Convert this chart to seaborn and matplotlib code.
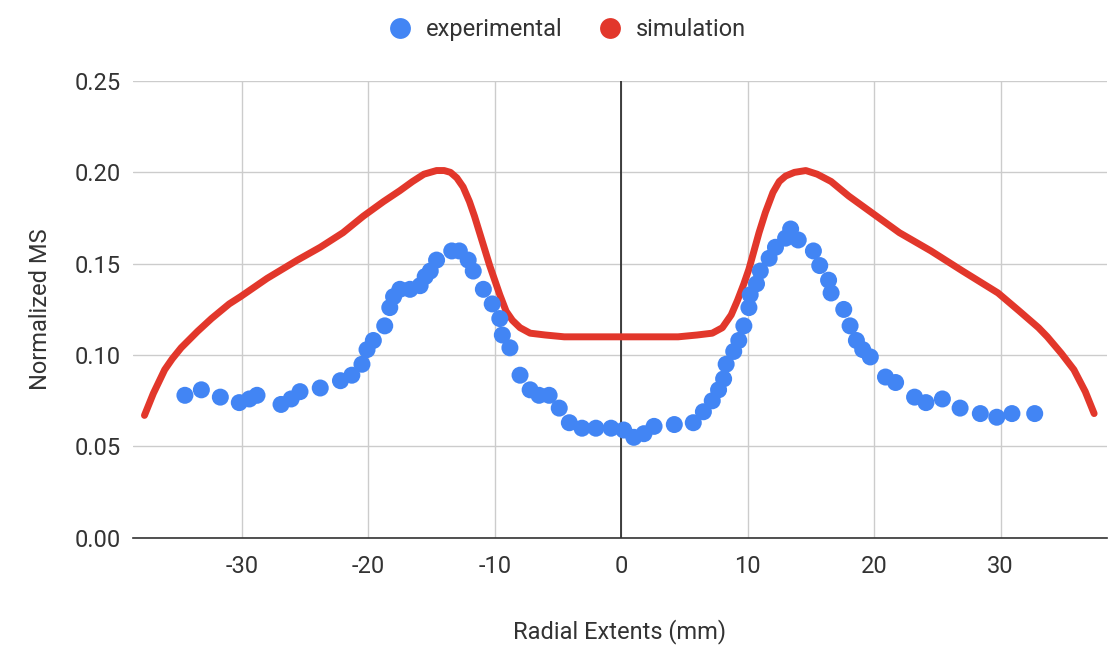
import matplotlib
matplotlib.use("Agg")
import matplotlib.pyplot as plt
import seaborn as sns
from matplotlib.lines import Line2D

# experimental points
exp_x = [-34.5, -33.2, -31.7, -30.2, -29.4, -28.8, -26.9, -26.1, -25.4, -23.8,
         -22.2, -21.3, -20.5, -20.1, -19.6, -18.7, -18.3, -18.0, -17.5, -16.7,
         -15.9, -15.5, -15.1, -14.6, -13.4, -12.8, -12.1, -11.7, -10.9, -10.2,
         -9.6, -9.4, -8.8, -8.0, -7.2, -6.5, -5.7, -4.9, -4.1, -3.1,
         -2.0, -0.8, 0.2, 1.0, 1.8, 2.6, 4.2, 5.7, 6.5, 7.2,
         7.7, 8.1, 8.3, 8.9, 9.3, 9.7, 10.1, 10.2, 10.7, 11.0,
         11.7, 12.2, 13.0, 13.4, 14.0, 15.2, 15.7, 16.4, 16.6, 17.6,
         18.1, 18.6, 19.1, 19.7, 20.9, 21.7, 23.2, 24.1, 25.4, 26.8,
         28.4, 29.7, 30.9, 32.7]
exp_y = [0.078, 0.081, 0.077, 0.074, 0.076, 0.078, 0.073, 0.076, 0.080, 0.082,
         0.086, 0.089, 0.095, 0.103, 0.108, 0.116, 0.126, 0.132, 0.136, 0.136,
         0.138, 0.143, 0.146, 0.152, 0.157, 0.157, 0.152, 0.146, 0.136, 0.128,
         0.120, 0.111, 0.104, 0.089, 0.081, 0.078, 0.078, 0.071, 0.063, 0.060,
         0.060, 0.060, 0.059, 0.055, 0.057, 0.061, 0.062, 0.063, 0.069, 0.075,
         0.081, 0.087, 0.095, 0.102, 0.108, 0.116, 0.126, 0.133, 0.139, 0.146,
         0.153, 0.159, 0.164, 0.169, 0.163, 0.157, 0.149, 0.141, 0.134, 0.125,
         0.116, 0.108, 0.103, 0.099, 0.088, 0.085, 0.077, 0.074, 0.076, 0.071,
         0.068, 0.066, 0.068, 0.068]

# simulation curve
sim_x = [-37.7, -37.0, -36.1, -35.5, -34.8, -33.5, -32.4, -31.0, -30.1, -28.0,
         -25.6, -23.8, -22.0, -20.4, -18.8, -17.5, -16.5, -15.6, -14.6, -14.0,
         -13.5, -13.0, -12.5, -12.0, -11.6, -11.2, -10.8, -10.4, -10.0, -9.6,
         -9.1, -8.6, -8.0, -7.2, -6.0, -4.5, -2.0, 0.0,
         2.0, 4.5, 6.0, 7.2, 8.0, 8.7, 9.2, 9.7, 10.1, 10.5,
         10.9, 11.4, 12.0, 12.5, 13.0, 13.7, 14.6, 15.5, 16.6, 18.0,
         19.8, 22.0, 24.5, 27.0, 29.8, 31.5, 33.0, 33.7, 34.8, 35.8,
         36.7, 37.4]
sim_y = [0.067, 0.079, 0.092, 0.098, 0.104, 0.113, 0.120, 0.128, 0.132, 0.142,
         0.152, 0.159, 0.167, 0.176, 0.184, 0.190, 0.195, 0.199, 0.201, 0.201,
         0.200, 0.197, 0.192, 0.184, 0.176, 0.167, 0.158, 0.149, 0.141, 0.133,
         0.124, 0.119, 0.115, 0.112, 0.111, 0.110, 0.110, 0.110,
         0.110, 0.110, 0.111, 0.112, 0.115, 0.122, 0.130, 0.139, 0.147, 0.157,
         0.167, 0.178, 0.189, 0.195, 0.198, 0.200, 0.201, 0.199, 0.195, 0.187,
         0.178, 0.167, 0.157, 0.146, 0.134, 0.124, 0.115, 0.110, 0.101, 0.092,
         0.080, 0.068]

x_ticks = [-30, -20, -10, 0, 10, 20, 30]
y_ticks = [0.00, 0.05, 0.10, 0.15, 0.20, 0.25]

blue = "#4285F4"
red = "#E2372B"
text_color = "#333333"

sns.set_theme(style="white")
plt.rcParams["font.family"] = ["Roboto", "DejaVu Sans"]

fig = plt.figure(figsize=(11.09, 6.48), dpi=100)
ax = fig.add_axes([0.12, 0.17, 0.878, 0.705])

sns.lineplot(x=sim_x, y=sim_y, color=red, linewidth=5, ax=ax,
             estimator=None, sort=False, zorder=3)
sns.scatterplot(x=exp_x, y=exp_y, color=blue, s=150, edgecolor="none",
                ax=ax, zorder=4)

ax.set_xlim(-38.6, 38.4)
ax.set_ylim(0, 0.25)
ax.set_xticks(x_ticks)
ax.set_yticks(y_ticks)
ax.set_xticklabels([str(t) for t in x_ticks])
ax.set_yticklabels([f"{t:.2f}" for t in y_ticks])

ax.grid(True, color="#cccccc", linewidth=1)
ax.axvline(0, color="#222222", linewidth=1.2, zorder=2)
for side in ["top", "right", "left"]:
    ax.spines[side].set_visible(False)
ax.spines["bottom"].set_color("#333333")
ax.spines["bottom"].set_linewidth(1.2)

ax.tick_params(axis="x", length=0, pad=12, labelsize=17, labelcolor=text_color)
ax.tick_params(axis="y", length=5, color="#cccccc", pad=4, labelsize=17,
               labelcolor=text_color)

ax.set_xlabel("Radial Extents (mm)", fontsize=17, color=text_color, labelpad=30)
ax.set_ylabel("Normalized MS", fontsize=17, color=text_color, labelpad=16)

handles = [
    Line2D([], [], marker="o", linestyle="none", markersize=15,
           markerfacecolor=blue, markeredgecolor="none", label="experimental"),
    Line2D([], [], marker="o", linestyle="none", markersize=15,
           markerfacecolor=red, markeredgecolor="none", label="simulation"),
]
fig.legend(handles=handles, loc="upper center", bbox_to_anchor=(0.506, 1.005),
           ncol=2, frameon=False, fontsize=17, handletextpad=0.1,
           columnspacing=1.0, labelcolor=text_color)

fig.savefig("out.png", dpi=100)
